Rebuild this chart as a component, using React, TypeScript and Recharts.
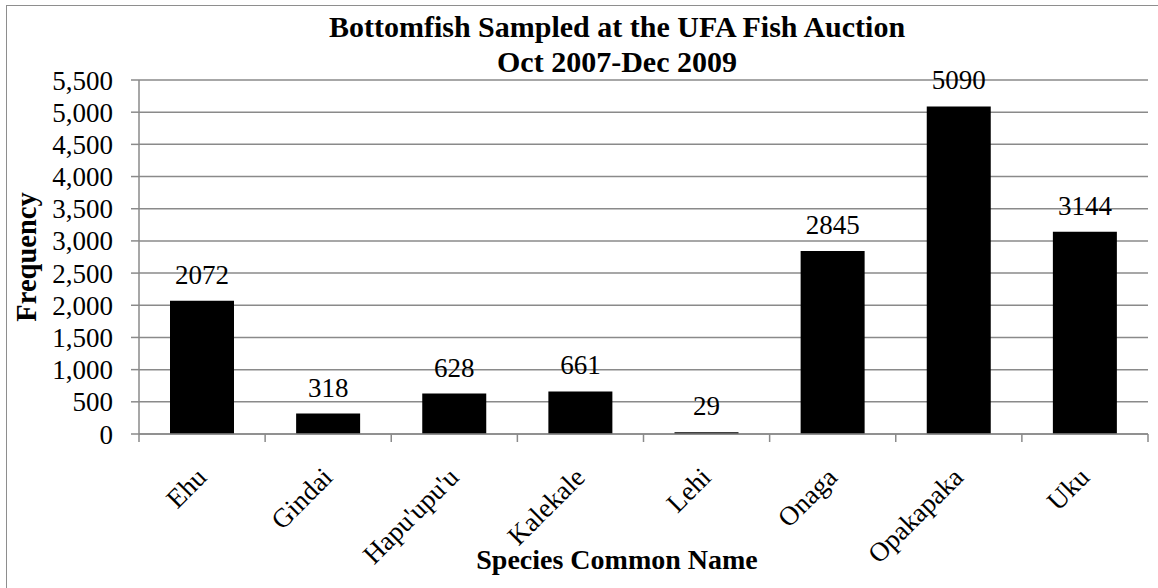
import React from 'react';
import { BarChart, Bar, XAxis, YAxis, CartesianGrid, LabelList } from 'recharts';

// species sampled at the auction
const CATEGORIES = ['Ehu', 'Gindai', "Hapu'upu'u", 'Kalekale', 'Lehi', 'Onaga', 'Opakapaka', 'Uku'];
const FREQUENCY = [2072, 318, 628, 661, 29, 2845, 5090, 3144];
const Y_TICKS = [0, 500, 1000, 1500, 2000, 2500, 3000, 3500, 4000, 4500, 5000, 5500];

const TITLE_LINES = ['Bottomfish Sampled at the UFA Fish Auction', 'Oct 2007-Dec 2009'];
const X_TITLE = 'Species Common Name';
const Y_TITLE = 'Frequency';

const data = CATEGORIES.map((name, i) => ({ name, value: FREQUENCY[i] }));

const FONT = "'Liberation Serif', serif";
const GREY = '#8a8a8a';

const XTick = (props: any) => {
    const { x, y, payload, index } = props;
    const off = payload.offset ?? 0;
    const tx = x + 6;
    const ty = y + 45;
    return (
        <g>
            <line x1={x - off} y1={y} x2={x - off} y2={y + 8} stroke={GREY} strokeWidth={1.5} />
            {index === CATEGORIES.length - 1 && (
                <line x1={x + off} y1={y} x2={x + off} y2={y + 8} stroke={GREY} strokeWidth={1.5} />
            )}
            <text
                x={tx}
                y={ty}
                transform={`rotate(-45, ${tx}, ${ty})`}
                textAnchor="end"
                fontFamily={FONT}
                fontSize={27}
                fill="#000"
            >
                {payload.value}
            </text>
        </g>
    );
};

const App = () => {
    return (
        <div style={{ position: 'absolute', left: 0, top: 0, width: 1158, height: 588, background: 'white' }}>
            <div style={{
                position: 'absolute',
                left: 6,
                top: 5,
                width: 1152,
                height: 583,
                boxSizing: 'border-box',
                borderLeft: '1.5px solid #8e8e8e',
                borderTop: '1.5px solid #8e8e8e'
            }} />
            <BarChart
                width={1158}
                height={588}
                data={data}
                margin={{ top: 80, right: 10, left: 0, bottom: 94 }}
                style={{ position: 'absolute', left: 0, top: 0 }}
            >
                <CartesianGrid vertical={false} stroke={GREY} strokeWidth={1.5} />
                <XAxis
                    dataKey="name"
                    height={60}
                    interval={0}
                    tickSize={0}
                    tickMargin={0}
                    tickLine={false}
                    axisLine={{ stroke: GREY, strokeWidth: 1.5 }}
                    tick={<XTick />}
                />
                <YAxis
                    width={139}
                    domain={[0, 5500]}
                    ticks={Y_TICKS}
                    interval={0}
                    tickSize={8}
                    tickMargin={18}
                    axisLine={{ stroke: GREY, strokeWidth: 1.5 }}
                    tickLine={{ stroke: GREY, strokeWidth: 1.5 }}
                    tickFormatter={(v: number) => v.toLocaleString('en-US')}
                    tick={{ fontFamily: FONT, fontSize: 27, fill: '#000' }}
                />
                <Bar dataKey="value" fill="#000" barSize={64} isAnimationActive={false}>
                    <LabelList
                        dataKey="value"
                        position="top"
                        offset={17}
                        style={{ fontFamily: FONT, fontSize: 27, fill: '#000' }}
                    />
                </Bar>
            </BarChart>
            <svg width={1158} height={588} style={{ position: 'absolute', left: 0, top: 0, pointerEvents: 'none' }}>
                <text x={617} y={37} textAnchor="middle" fontFamily={FONT} fontWeight="bold" fontSize={30} fill="#000">
                    {TITLE_LINES[0]}
                </text>
                <text x={617} y={72} textAnchor="middle" fontFamily={FONT} fontWeight="bold" fontSize={30} fill="#000">
                    {TITLE_LINES[1]}
                </text>
                <text x={617} y={569} textAnchor="middle" fontFamily={FONT} fontWeight="bold" fontSize={28} fill="#000">
                    {X_TITLE}
                </text>
                <text
                    x={36}
                    y={257}
                    transform="rotate(-90, 36, 257)"
                    textAnchor="middle"
                    fontFamily={FONT}
                    fontWeight="bold"
                    fontSize={28.5}
                    fill="#000"
                >
                    {Y_TITLE}
                </text>
            </svg>
        </div>
    );
};

export default App;
